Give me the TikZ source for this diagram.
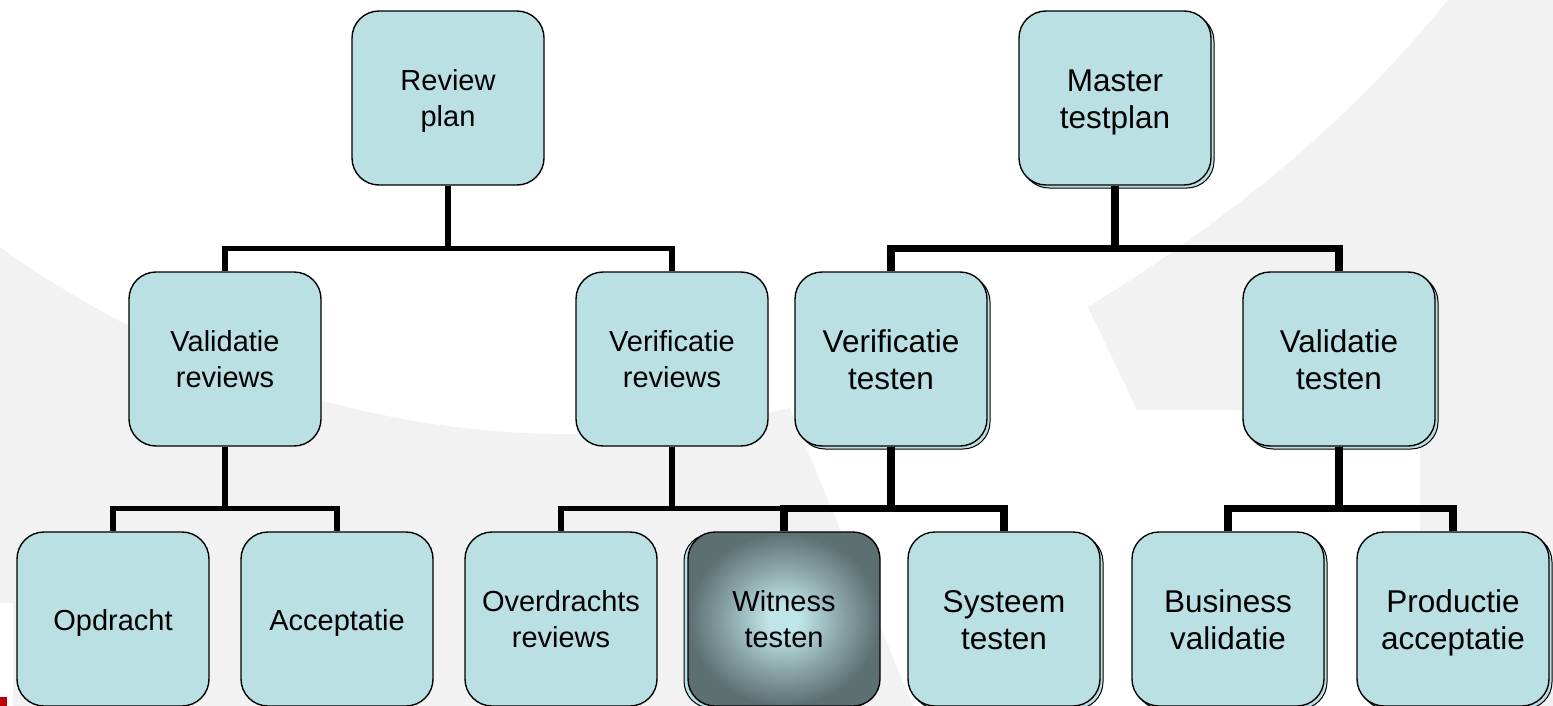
\documentclass[tikz,border=0pt]{standalone}
\usepackage{fontspec}
\setmainfont{Liberation Sans}
\usetikzlibrary{shadows}
\definecolor{boxfill}{RGB}{187,224,227}
\definecolor{bggrey}{RGB}{242,242,242}
\definecolor{witdark}{RGB}{92,111,113}
\definecolor{witmid}{RGB}{142,170,172}
\definecolor{witlight}{RGB}{192,229,232}
\definecolor{markred}{RGB}{192,0,0}
\pgfdeclareradialshading{witshade}{\pgfpoint{0bp}{0bp}}{color(0bp)=(witlight); color(4bp)=(witlight); color(14bp)=(witmid); color(25bp)=(witdark); color(50bp)=(witdark)}
\newcommand\twoline[2]{\vtop{\halign{\hfil##\hfil\cr#1\cr#2\cr}}}
\begin{document}
\begin{tikzpicture}[x=1pt,y=-1pt,
  box/.style={rectangle, rounded corners=27pt, draw=black, line width=1.4pt,
    minimum width=192pt, minimum height=174pt, inner sep=0pt, text=black},
  lbox/.style={box, fill=boxfill, font=\fontsize{29}{36}\selectfont, text height=21pt, text depth=36pt},
  rbox/.style={box, fill=boxfill, font=\fontsize{31.5}{36.5}\selectfont, text height=24pt, text depth=36.6pt,
    general shadow={shadow xshift=3pt, shadow yshift=-3pt, fill=boxfill, draw=black, line width=1pt}},
  wbox/.style={box, shade, shading=witshade, font=\fontsize{29}{36}\selectfont, text height=21pt, text depth=36pt,
    general shadow={shadow xshift=-4pt, shadow yshift=-2pt, fill=boxfill, draw=black, line width=1pt}},
  oneline/.style={text height=23pt, text depth=0pt},
  lconn/.style={draw=black, line width=5.5pt, line join=miter},
  rconn/.style={draw=black, line width=7.5pt, line join=miter}]
\useasboundingbox (0,0) rectangle (1553,706);
% background
\fill[white] (0,0) rectangle (1553,706);
\fill[bggrey] (0,706) -- (0,247) .. controls (228,411) and (517,475) .. (790,408) -- (913,706) -- cycle;
\fill[bggrey] (1448,0) .. controls (1347,125) and (1224,223) .. (1088,307) -- (1137,410) -- (1420,410) -- (1420,706) -- (1553,706) -- (1553,0) -- cycle;
\fill[white] (0,603) rectangle (13,706);
\fill[markred] (0,697) rectangle (7,706);
% nodes
\node[lbox] (rp) at (448,98) {\twoline{Review}{plan}};
\node[lbox] (vr) at (225,359) {\twoline{Validatie}{reviews}};
\node[lbox] (ver) at (672,359) {\twoline{Verificatie}{reviews}};
\node[rbox] (mt) at (1115,98) {\twoline{Master}{testplan}};
\node[rbox] (vt) at (891,359) {\twoline{Verificatie}{testen}};
\node[rbox] (valt) at (1339,359) {\twoline{Validatie}{testen}};
\node[lbox, oneline] (opd) at (113,619) {Opdracht};
\node[lbox, oneline] (acc) at (337,619) {Acceptatie};
\node[lbox] (ovr) at (561,619) {\twoline{Overdrachts}{reviews}};
\node[wbox] (wit) at (784,619) {\twoline{Witness}{testen}};
\node[rbox] (sys) at (1004,619) {\twoline{Systeem}{testen}};
\node[rbox] (bus) at (1228,619) {\twoline{Business}{validatie}};
\node[rbox] (prod) at (1453,619) {\twoline{Productie}{acceptatie}};
% connectors
\draw[lconn] (rp.south) -- ++(0,63) -| (vr.north);
\draw[lconn] (rp.south) -- ++(0,63) -| (ver.north);
\draw[lconn] (vr.south) -- ++(0,62) -| (opd.north);
\draw[lconn] (vr.south) -- ++(0,62) -| (acc.north);
\draw[lconn] (ver.south) -- ++(0,62) -| (ovr.north);
\draw[lconn] (ver.south) -- ++(0,62) -| (wit.north);
\draw[rconn] (mt.south) -- ++(0,63) -| (vt.north);
\draw[rconn] (mt.south) -- ++(0,63) -| (valt.north);
\draw[rconn] (vt.south) -- ++(0,62) -| (wit.north);
\draw[rconn] (vt.south) -- ++(0,62) -| (sys.north);
\draw[rconn] (valt.south) -- ++(0,62) -| (bus.north);
\draw[rconn] (valt.south) -- ++(0,62) -| (prod.north);
\end{tikzpicture}
\end{document}
